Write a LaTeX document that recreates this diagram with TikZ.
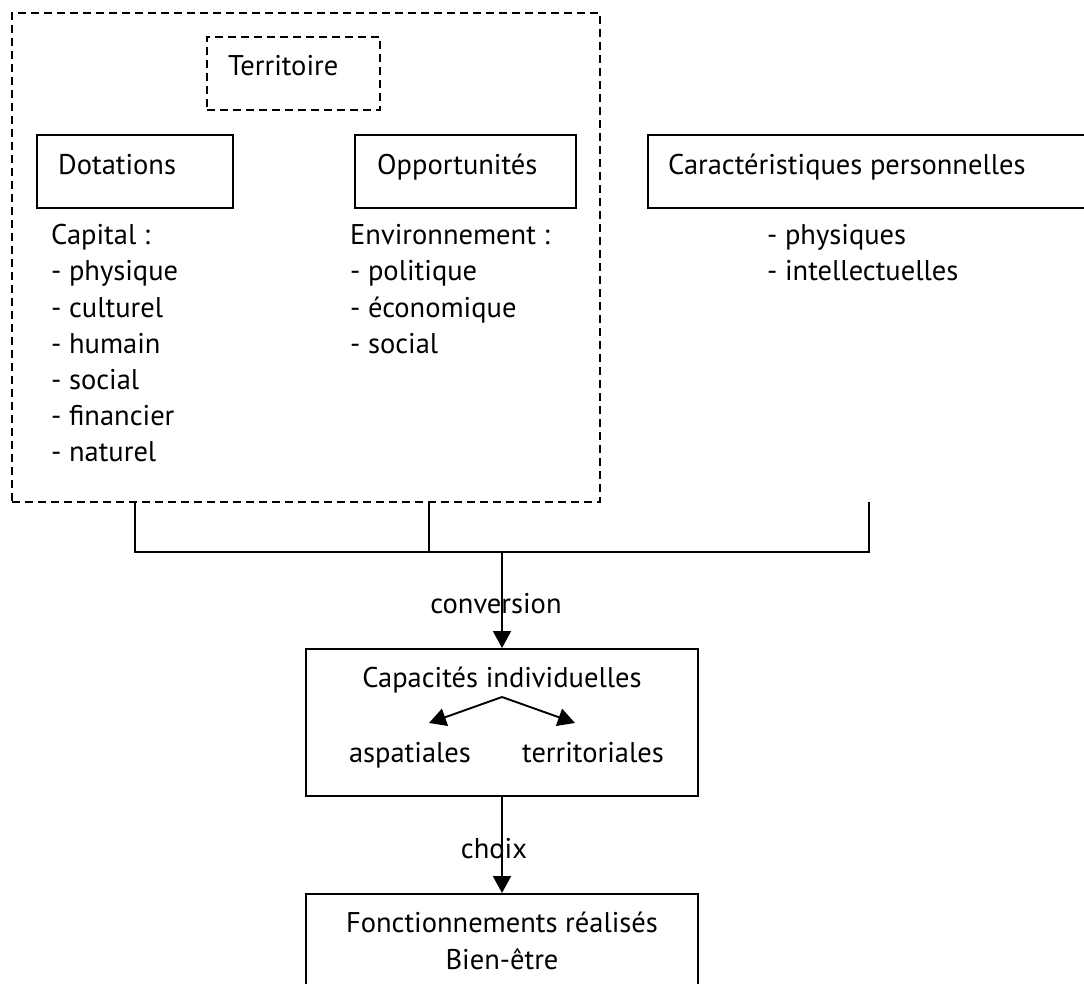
\documentclass[tikz,border=0pt]{standalone}
\usepackage{fontspec}
\setmainfont{PT Sans}
\usetikzlibrary{arrows.meta}
\begin{document}
\begin{tikzpicture}[x=1pt,y=-1pt,
  every node/.style={font=\fontsize{28.5}{34}\selectfont, inner sep=0pt},
  solidbox/.style={draw, line width=1.9pt, rectangle},
  dashbox/.style={draw, line width=1.9pt, rectangle, dash pattern=on 8pt off 5pt},
  txt/.style={anchor=base west},
  ctxt/.style={anchor=base},
  conn/.style={line width=1.9pt},
  arr/.style={line width=1.9pt, -{Triangle[length=17pt,width=18pt]}}
]
\useasboundingbox (0,0) rectangle (1084,984);
% outer dashed frame
\node[dashbox, minimum width=588pt, minimum height=489pt] (outer) at (306,257.5) {};
\node[dashbox, minimum width=173pt, minimum height=73pt] (terr) at (293.5,73.5) {};
\node[txt] (terrt) at (228,76) {Territoire};
% boxes
\node[solidbox, minimum width=196pt, minimum height=73pt] (dot) at (135,171.5) {};
\node[txt] (dott) at (58,175) {Dotations};
\node[solidbox, minimum width=221pt, minimum height=73pt] (opp) at (465.5,171.5) {};
\node[txt] (oppt) at (377,175) {Opportunités};
\node[solidbox, minimum width=460pt, minimum height=73pt] (car) at (878,171.5) {};
\node[txt] (cart) at (668,175) {Caractéristiques personnelles};
% lists
\node[txt] (l1) at (51,245) {Capital :};
\node[txt] (l2) at (51,281) {- physique};
\node[txt] (l3) at (51,317) {- culturel};
\node[txt] (l4) at (51,353) {- humain};
\node[txt] (l5) at (51,389) {- social};
\node[txt] (l6) at (51,425) {- financier};
\node[txt] (l7) at (51,461) {- naturel};
\node[txt] (e1) at (350,245) {Environnement :};
\node[txt] (e2) at (350,281) {- politique};
\node[txt] (e3) at (350,317) {- économique};
\node[txt] (e4) at (350,353) {- social};
\node[txt] (p1) at (767,245) {- physiques};
\node[txt] (p2) at (767,281) {- intellectuelles};
% connector junction
\coordinate (a1) at (135,502);
\coordinate (a2) at (429,502);
\coordinate (a3) at (869,502);
\coordinate (b1) at (135,552);
\coordinate (b2) at (429,552);
\coordinate (b3) at (869,552);
\coordinate (bm) at (502,552);
\draw[conn] (a1) -- (b1) -- (b3) -- (a3);
\draw[conn] (a2) -- (b2);
% capacities
\node[solidbox, minimum width=392pt, minimum height=147pt] (cap) at (502,722.5) {};
\node[ctxt] (capt) at (502,687) {Capacités individuelles};
\coordinate (apex) at (502,697);
\node[ctxt] (asp) at (410,762) {aspatiales};
\node[ctxt] (ter) at (593,762) {territoriales};
\draw[arr] (apex) -- (429,723);
\draw[arr] (apex) -- (575,723);
\draw[arr] (bm) -- (cap.north);
\node[ctxt] (conv) at (496,613) {conversion};
% result
\node[solidbox, minimum width=392pt, minimum height=120pt] (fonc) at (502,954) {};
\node[ctxt] (fonct) at (502,932) {Fonctionnements réalisés};
\node[ctxt] (bien) at (502,969) {Bien-être};
\draw[arr] (cap.south) -- (fonc.north);
\node[ctxt] (choix) at (494,858) {choix};
\end{tikzpicture}
\end{document}
